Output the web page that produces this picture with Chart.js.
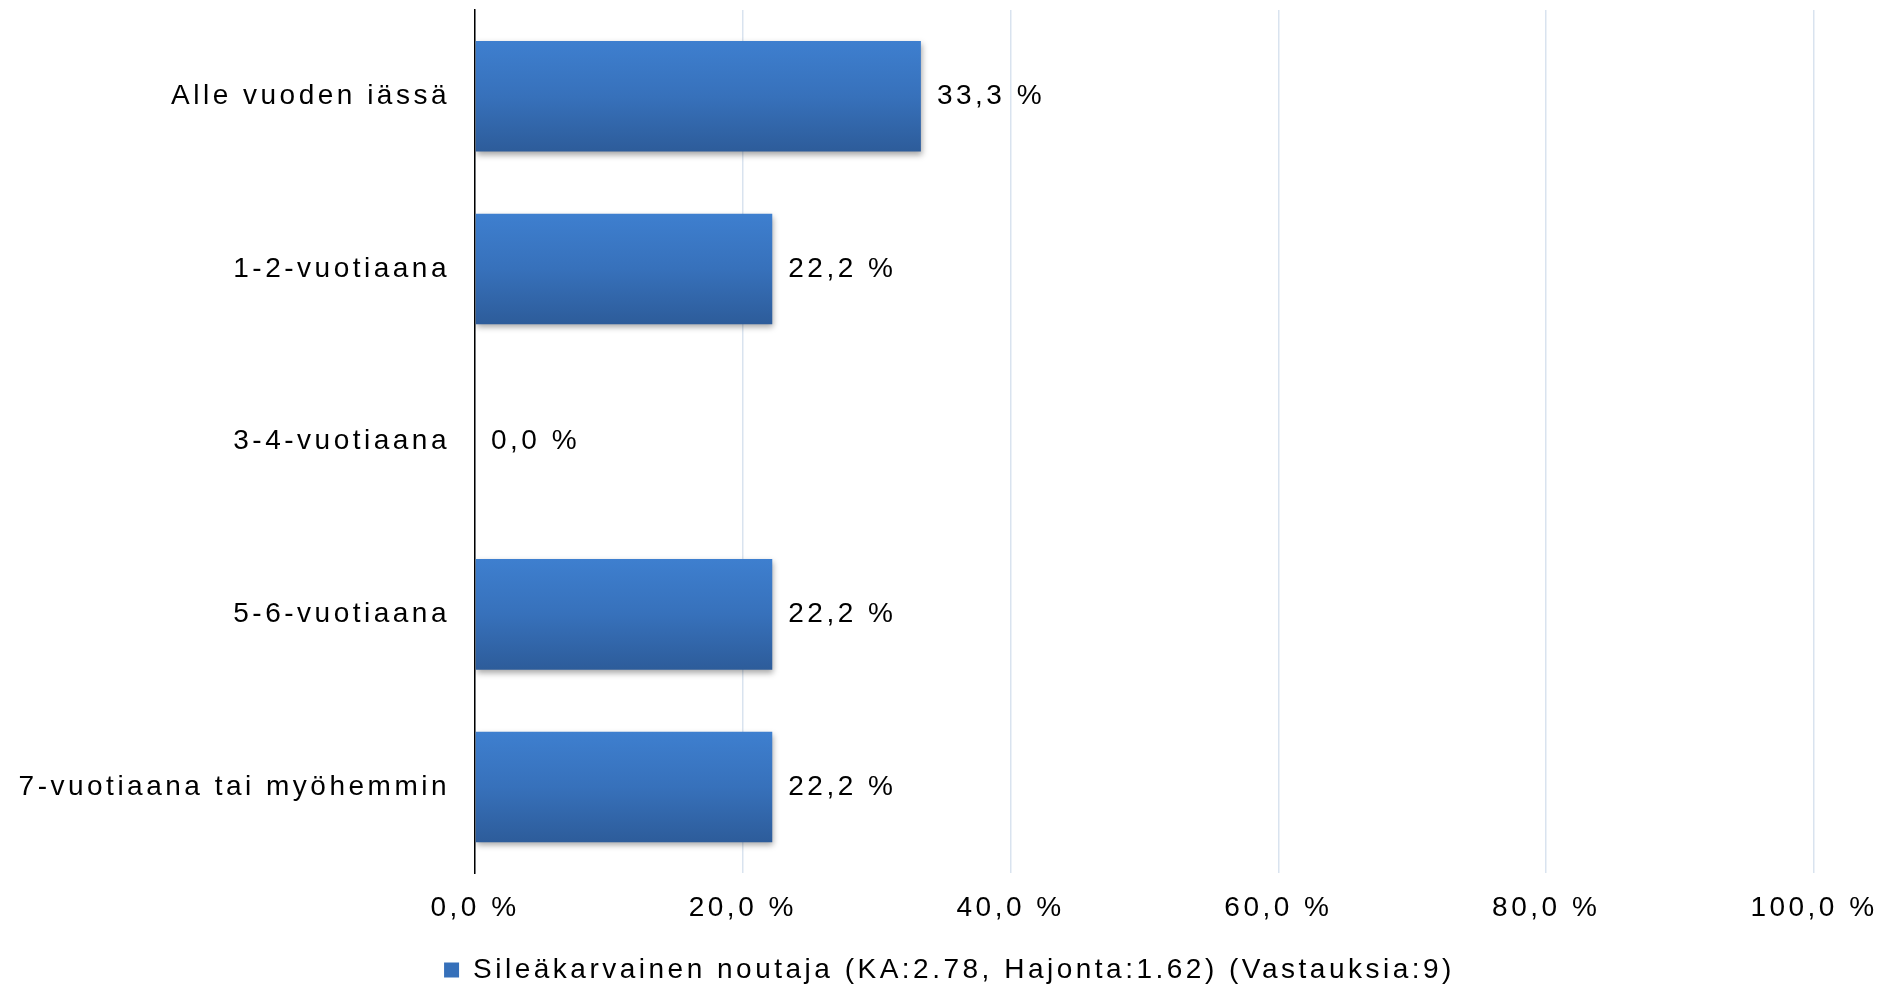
<!DOCTYPE html>
<html>
<head>
<meta charset="utf-8">
<script src="https://cdn.jsdelivr.net/npm/chart.js@4.4.3/dist/chart.umd.min.js"></script>
<style>
  html, body { margin: 0; padding: 0; background: #ffffff; }
  #wrap { width: 1899px; height: 987px; }
</style>
</head>
<body>
<div id="wrap"><canvas id="age-chart"></canvas></div>
<script>
const categories = [
  "Alle vuoden iässä",
  "1-2-vuotiaana",
  "3-4-vuotiaana",
  "5-6-vuotiaana",
  "7-vuotiaana tai myöhemmin",
];
const shareValues = [33.3, 22.2, 0.0, 22.2, 22.2];
const seriesLabel = "Sileäkarvainen noutaja (KA:2.78, Hajonta:1.62) (Vastauksia:9)";
const axisMin = 0;
const axisMax = 100;
const axisStep = 20;

const FONT_FAMILY = "Arial, 'Liberation Sans', sans-serif";
const FONT_SIZE = 28;
const LETTER_SPACING = "3.5px";

function formatPercent(value) {
  return `${Number(value).toFixed(1).replace(".", ",")} %`;
}

const spacingPlugin = {
  id: "spacing",
  beforeUpdate(chart) {
    chart.ctx.letterSpacing = LETTER_SPACING;
  },
  beforeDraw(chart) {
    chart.ctx.letterSpacing = LETTER_SPACING;
  },
};

const shadowPlugin = {
  id: "barShadow",
  beforeDatasetsDraw(chart) {
    const ctx = chart.ctx;
    ctx.save();
    ctx.shadowColor = "rgba(0, 0, 0, 0.35)";
    ctx.shadowBlur = 6;
    ctx.shadowOffsetX = 1;
    ctx.shadowOffsetY = 3;
  },
  afterDatasetsDraw(chart) {
    chart.ctx.restore();
  },
};

const valueLabelPlugin = {
  id: "valueLabels",
  afterDatasetsDraw(chart) {
    const ctx = chart.ctx;
    const meta = chart.getDatasetMeta(0);
    ctx.save();
    ctx.letterSpacing = LETTER_SPACING;
    ctx.font = `${FONT_SIZE}px ${FONT_FAMILY}`;
    ctx.fillStyle = "#000000";
    ctx.textAlign = "left";
    ctx.textBaseline = "middle";
    meta.data.forEach((bar, index) => {
      ctx.fillText(formatPercent(shareValues[index]), bar.x + 16, bar.y);
    });
    ctx.restore();
  },
};

function barGradient(context) {
  const chart = context.chart;
  const yScale = chart.scales.y;
  if (!yScale || !chart.chartArea) {
    return "#3568b0";
  }
  const center = yScale.getPixelForValue(context.dataIndex);
  const half = (yScale.height / categories.length) * 0.64 / 2;
  const gradient = chart.ctx.createLinearGradient(0, center - half, 0, center + half);
  gradient.addColorStop(0, "#3e7fcf");
  gradient.addColorStop(0.5, "#3771bb");
  gradient.addColorStop(1, "#2d5c9a");
  return gradient;
}

const ctx = document.getElementById("age-chart");

new Chart(ctx, {
  type: "bar",
  data: {
    labels: categories,
    datasets: [
      {
        label: seriesLabel,
        data: shareValues,
        backgroundColor: barGradient,
        borderWidth: 0,
        categoryPercentage: 1,
        barPercentage: 0.64,
      },
    ],
  },
  options: {
    indexAxis: "y",
    responsive: true,
    maintainAspectRatio: false,
    animation: false,
    layout: {
      padding: { left: 0, right: 0, top: 10, bottom: -7 },
    },
    scales: {
      x: {
        min: axisMin,
        max: axisMax,
        ticks: {
          stepSize: axisStep,
          color: "#000000",
          padding: 18,
          font: { family: FONT_FAMILY, size: FONT_SIZE },
          callback(value) {
            return formatPercent(value);
          },
        },
        grid: {
          color: "#d9e3ef",
          lineWidth: 1.5,
          drawTicks: false,
        },
        border: { display: false },
        afterFit(scale) {
          scale.paddingRight = 85;
          scale.height += 12;
        },
      },
      y: {
        ticks: {
          color: "#000000",
          padding: 25,
          font: { family: FONT_FAMILY, size: FONT_SIZE },
        },
        grid: { display: false, drawTicks: false },
        border: { display: true, color: "#000000", width: 1.5 },
        afterFit(scale) {
          scale.width = 475;
          scale.paddingTop = 0;
          scale.paddingBottom = 0;
        },
      },
    },
    plugins: {
      legend: {
        position: "bottom",
        labels: {
          color: "#000000",
          boxWidth: 15,
          boxHeight: 15,
          padding: 1,
          font: { family: FONT_FAMILY, size: FONT_SIZE },
          generateLabels() {
            return [
              {
                text: seriesLabel,
                fillStyle: "#3670ba",
                strokeStyle: "#3670ba",
                lineWidth: 0,
                datasetIndex: 0,
                hidden: false,
              },
            ];
          },
        },
      },
      tooltip: { enabled: false },
    },
  },
  plugins: [spacingPlugin, shadowPlugin, valueLabelPlugin],
});
</script>
</body>
</html>
